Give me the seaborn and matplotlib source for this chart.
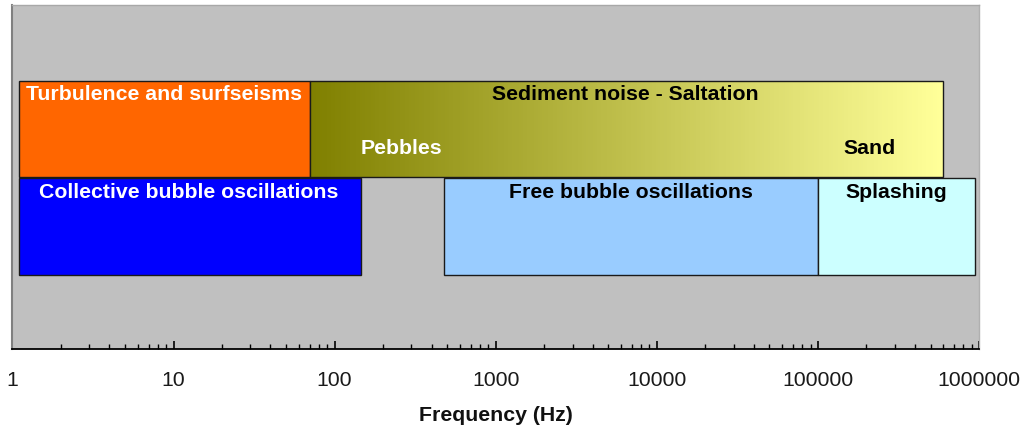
import numpy as np
import matplotlib
matplotlib.use("Agg")
import matplotlib.pyplot as plt
import matplotlib.colors as mcolors
import seaborn as sns

# ---- data ----
bands = ["Turbulence and surfseisms", "Sediment noise - Saltation",
         "Collective bubble oscillations", "Free bubble oscillations", "Splashing"]
f_low = [1.1, 70, 1.1, 480, 100000]
f_high = [70, 600000, 145, 100000, 950000]
rows = [2.27, 2.27, 1.265, 1.265, 1.265]
colors = ["#FF6600", None, "#0000FF", "#99CCFF", "#CCFFFF"]
label_x = [8.7, 6370, 12.4, 6900, 305000]
label_y = [2.635, 2.635, 1.63, 1.63, 1.63]
label_color = ["white", "black", "white", "black", "black"]
sub_labels = ["Pebbles", "Sand"]
sub_x = [259, 210000]
sub_y = [2.08, 2.08]
sub_color = ["white", "black"]
gradient_colors = ["#808000", "#FFFF99"]
xticks = [1, 10, 100, 1000, 10000, 100000, 1000000]
xtick_labels = ["1", "10", "100", "1000", "10000", "100000", "1000000"]

sns.set_theme(style="white")
plt.rcParams["font.family"] = ["Liberation Sans", "DejaVu Sans"]

FS = 15.3

fig = plt.figure(figsize=(10.28, 4.27), dpi=100)
ax = fig.add_axes([12.4 / 1028, 1 - 350 / 427, (979 - 12.4) / 1028, (350 - 6) / 427])
ax.set_facecolor("#C0C0C0")
ax.set_xscale("log")
ax.set_xlim(1, 1e6)
ax.set_ylim(0, 3.55)

h = 1.0
cmap = mcolors.LinearSegmentedColormap.from_list("sed", gradient_colors)
for i, name in enumerate(bands):
    lo, hi, y = f_low[i], f_high[i], rows[i]
    if colors[i] is None:
        n = 300
        edges = np.logspace(np.log10(lo), np.log10(hi), n + 1)
        cols = [cmap(k / (n - 1)) for k in range(n)]
        ax.barh([y] * n, edges[1:] - edges[:-1], left=edges[:-1], height=h,
                color=cols, edgecolor="none", linewidth=0, zorder=2)
        ax.barh(y, hi - lo, left=lo, height=h, facecolor="none",
                edgecolor="#1a1a1a", linewidth=1.0, zorder=3)
    else:
        ax.barh(y, hi - lo, left=lo, height=h, color=colors[i],
                edgecolor="#1a1a1a", linewidth=1.0, zorder=2)
    ax.text(label_x[i], label_y[i], name, ha="center", va="center",
            fontsize=FS, fontweight="bold", color=label_color[i], zorder=4)

for s, x, y, c in zip(sub_labels, sub_x, sub_y, sub_color):
    ax.text(x, y, s, ha="center", va="center", fontsize=FS,
            fontweight="bold", color=c, zorder=4)

ax.set_xticks(xticks)
ax.set_xticklabels(xtick_labels)
ax.set_yticks([])
ax.xaxis.set_minor_locator(matplotlib.ticker.LogLocator(base=10, subs=np.arange(2, 10)))
ax.xaxis.set_minor_formatter(matplotlib.ticker.NullFormatter())
ax.tick_params(axis="x", which="major", direction="in", length=5.5, width=1.2,
               color="black", labelsize=FS, labelcolor="#1a1a1a", pad=15, bottom=True)
ax.tick_params(axis="x", which="minor", direction="in", length=3.5, width=1.0,
               color="black", bottom=True)
ax.set_xlabel("Frequency (Hz)", fontsize=FS, fontweight="bold", labelpad=12,
              color="#111111")

ax.spines["bottom"].set_color("black")
ax.spines["bottom"].set_linewidth(1.3)
ax.spines["left"].set_color("#808080")
ax.spines["left"].set_linewidth(1.5)
ax.spines["top"].set_color("#A8A8A8")
ax.spines["top"].set_linewidth(1.0)
ax.spines["right"].set_color("#B0B0B0")
ax.spines["right"].set_linewidth(1.0)

fig.savefig("out.png", dpi=100, facecolor="white")
